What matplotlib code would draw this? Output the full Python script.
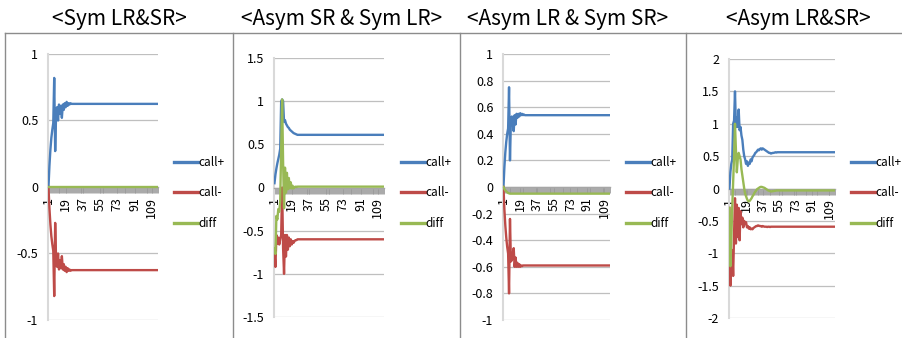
import matplotlib
matplotlib.use('Agg')
import matplotlib.pyplot as plt
from matplotlib.lines import Line2D
from matplotlib.ticker import FuncFormatter, MultipleLocator

plt.rcParams['font.family'] = ['Noto Sans CJK KR', 'DejaVu Sans']

n_points = 115
x_vals = list(range(1, n_points + 1))
x_labels = [1, 19, 37, 55, 73, 91, 109]

titles = ['<Sym LR&SR>', '<Asym SR & Sym LR>', '<Asym LR & Sym SR>', '<Asym LR&SR>']
series_names = ['call+', 'call-', 'diff']
series_colors = ['#4a7ebb', '#be4b48', '#98b954']

# <Sym LR&SR>
sym_plus = [0.00, 0.16, 0.28, 0.37, 0.43, 0.48, 0.82, 0.27, 0.56, 0.60,
            0.50, 0.62, 0.55, 0.61, 0.52, 0.62, 0.58, 0.63, 0.60, 0.64,
            0.61, 0.63, 0.62, 0.63, 0.625] + [0.625] * 90
sym_minus = [0.00, -0.16, -0.28, -0.37, -0.43, -0.48, -0.82, -0.27, -0.56, -0.60,
             -0.50, -0.62, -0.55, -0.61, -0.52, -0.62, -0.58, -0.63, -0.60, -0.64,
             -0.61, -0.63, -0.62, -0.63, -0.625] + [-0.625] * 90
sym_diff = [0.0] * 115

# <Asym SR & Sym LR>
asr_plus = [0.05, 0.15, 0.22, 0.28, 0.33, 0.38, 0.45, 1.00, 1.02, 1.00,
            0.76, 0.78, 0.74, 0.72, 0.70, 0.69, 0.67, 0.66, 0.65, 0.64,
            0.63, 0.625, 0.62, 0.615, 0.61] + [0.61] * 90
asr_minus = [-0.76, -0.92, -0.55, -0.65, -0.58, -0.66, -0.60, -0.55, 0.00, -0.70,
             -1.00, -0.55, -0.80, -0.55, -0.72, -0.58, -0.68, -0.60, -0.66, -0.62,
             -0.64, -0.62, -0.61, -0.61, -0.60] + [-0.60] * 90
asr_diff = [-0.71, -0.77, -0.33, -0.37, -0.25, -0.28, -0.15, 0.45, 1.02, 0.30,
            -0.24, 0.23, -0.06, 0.17, -0.02, 0.11, -0.01, 0.06, -0.01, 0.02,
            -0.01, 0.005, 0.01, 0.005, 0.01] + [0.01] * 90

# <Asym LR & Sym SR>
alr_plus = [0.00, 0.15, 0.26, 0.34, 0.40, 0.44, 0.75, 0.20, 0.50, 0.53,
            0.48, 0.42, 0.54, 0.47, 0.55, 0.52, 0.55, 0.53, 0.555, 0.54,
            0.55, 0.54, 0.545, 0.54, 0.54] + [0.54] * 90
alr_minus = [0.00, -0.17, -0.29, -0.38, -0.45, -0.50, -0.80, -0.24, -0.56, -0.55,
             -0.50, -0.46, -0.60, -0.53, -0.60, -0.57, -0.60, -0.58, -0.60, -0.59,
             -0.595, -0.59, -0.59, -0.59, -0.59] + [-0.59] * 90
alr_diff = [0.00, -0.015, -0.025, -0.033, -0.04, -0.045, -0.048, -0.05, -0.05, -0.05] + [-0.05] * 105

# <Asym LR&SR>
asym_plus = [0.00, 0.25, 0.38, 0.45, 1.00, 1.05, 1.50, 0.95, 1.10, 0.95,
             1.22, 0.90, 0.95, 0.82, 0.75, 0.60, 0.50, 0.45, 0.38, 0.42,
             0.35, 0.40, 0.38, 0.45, 0.42, 0.48, 0.50, 0.52, 0.55, 0.56,
             0.58, 0.60, 0.59, 0.61, 0.62, 0.60, 0.62, 0.61, 0.60, 0.59,
             0.58, 0.57, 0.56, 0.55, 0.55, 0.54, 0.545, 0.55, 0.55, 0.555,
             0.56, 0.555, 0.56, 0.56, 0.56] + [0.56] * 60
asym_minus = [-0.30, -1.50, -1.20, -0.95, -1.35, -0.70, -0.15, -0.85, -0.25, -0.75,
              -0.30, -0.80, -0.35, -0.55, -0.45, -0.60, -0.50, -0.55, -0.52, -0.60,
              -0.58, -0.62, -0.60, -0.63, -0.62, -0.63, -0.61, -0.60, -0.59, -0.58,
              -0.58, -0.57, -0.575, -0.58, -0.58, -0.59, -0.58, -0.585, -0.59, -0.59,
              -0.59, -0.595, -0.59, -0.59, -0.595, -0.59, -0.59, -0.59, -0.59, -0.59,
              -0.59, -0.59, -0.59, -0.59, -0.59] + [-0.59] * 60
asym_diff = [-0.30, -1.20, -0.80, -0.30, 0.10, 0.50, 1.00, 0.60, 0.25, 0.45,
             0.55, 0.50, 0.45, 0.30, 0.20, 0.10, 0.00, -0.08, -0.12, -0.16,
             -0.19, -0.20, -0.19, -0.17, -0.15, -0.12, -0.10, -0.07, -0.05, -0.03,
             -0.01, 0.00, 0.01, 0.02, 0.025, 0.025, 0.02, 0.015, 0.01, 0.00,
             -0.01, -0.02, -0.03, -0.035, -0.04, -0.045, -0.045, -0.04, -0.04, -0.035,
             -0.035, -0.03, -0.03, -0.03, -0.03] + [-0.03] * 60

panel_series = [
    (sym_plus, sym_minus, sym_diff),
    (asr_plus, asr_minus, asr_diff),
    (alr_plus, alr_minus, alr_diff),
    (asym_plus, asym_minus, asym_diff),
]
y_limits = [(-1, 1), (-1.5, 1.5), (-1, 1), (-2, 2)]
y_steps = [0.5, 0.5, 0.2, 0.5]

# pixel layout of the original picture
W, H = 902, 338
plot_boxes = [(48, 54, 158, 320), (274, 58, 384, 317), (503, 54, 610, 320), (729, 59, 835, 318)]
title_x = [119, 342, 568, 798]
legend_x = [174, 401, 626, 851]
frame_x = [5, 233, 460, 686]

fig = plt.figure(figsize=(W / 100, H / 100), dpi=100)

# panel frames
fig.add_artist(Line2D([5 / W, 1], [1 - 33 / H] * 2, color='#8c8c8c', lw=1))
for fx in frame_x:
    fig.add_artist(Line2D([fx / W] * 2, [0, 1 - 33 / H], color='#8c8c8c', lw=1))

fmt = FuncFormatter(lambda v, p: f'{round(v, 2) + 0.0:g}')

for k in range(4):
    x0, yt, x1, yb = plot_boxes[k]
    ax = fig.add_axes([x0 / W, 1 - yb / H, (x1 - x0) / W, (yb - yt) / H])

    handles = []
    for vals, name, col in zip(panel_series[k], series_names, series_colors):
        ln, = ax.plot(x_vals, vals, color=col, lw=1.7, label=name, zorder=3)
        handles.append(ln)

    ax.set_xlim(0.5, n_points + 0.5)
    ax.set_ylim(*y_limits[k])
    ax.yaxis.set_major_locator(MultipleLocator(y_steps[k]))
    ax.yaxis.set_major_formatter(fmt)
    ax.grid(axis='y', color='#bfbfbf', lw=0.9)
    ax.set_axisbelow(True)

    for s in ['top', 'right']:
        ax.spines[s].set_visible(False)
    ax.spines['left'].set_color('#d9d9d9')
    ax.spines['left'].set_linewidth(1.5)
    ax.spines['bottom'].set_position(('data', 0))
    ax.spines['bottom'].set_color('#a6a6a6')
    ax.spines['bottom'].set_linewidth(1)

    ax.set_xticks(x_labels)
    ax.set_xticklabels([str(v) for v in x_labels], rotation=90, va='top', ha='center')
    ax.set_xticks([i + 0.5 for i in range(0, n_points + 1)], minor=True)
    ax.tick_params(axis='x', which='both', length=4, width=0.6, color='#9a9a9a',
                   direction='out', labelsize=9, pad=3)
    ax.tick_params(axis='y', length=0, labelsize=9, pad=7)

    leg = fig.legend(handles=handles, loc='center left',
                     bbox_to_anchor=(legend_x[k] / W, 1 - 193 / H),
                     frameon=False, fontsize=8.5, handlelength=2.0,
                     handletextpad=0.1, labelspacing=1.5,
                     borderpad=0, borderaxespad=0)
    for lh in leg.get_lines():
        lh.set_linewidth(2.4)

    fig.text(title_x[k] / W, 1 - 19 / H, titles[k], ha='center', va='center',
             fontsize=15)

fig.savefig('out.png', dpi=100)
